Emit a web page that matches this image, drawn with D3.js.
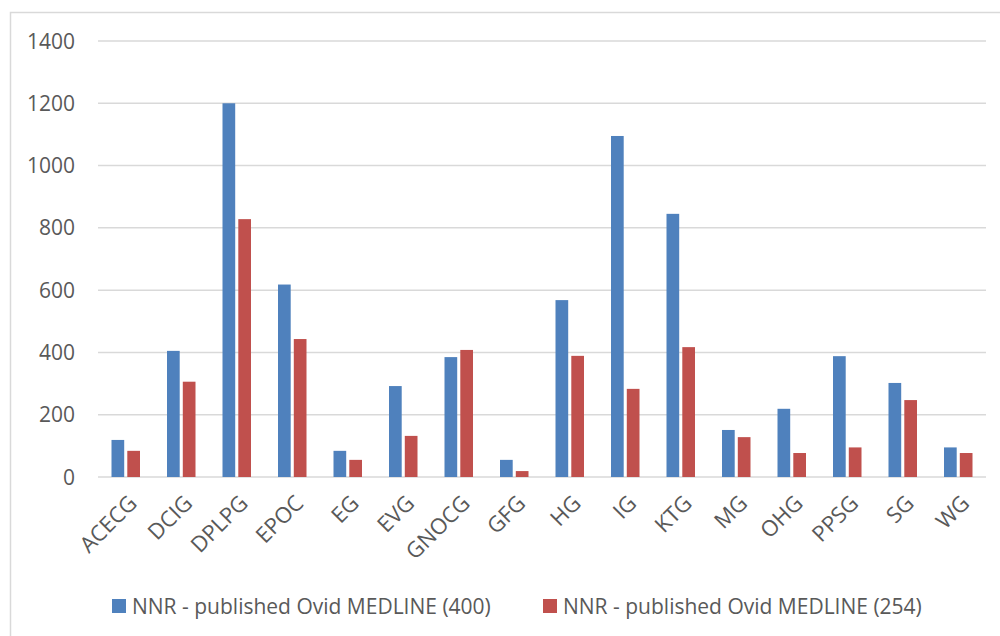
<!DOCTYPE html>
<html>
<head>
<meta charset="utf-8">
<script src="https://cdn.jsdelivr.net/npm/d3@7"></script>
<style>
	body { margin: 0; background: #fff; }
	svg { display: block; }
	text { font-family: "Open Sans", sans-serif; fill: #595959; }
</style>
</head>
<body>
<svg width="1000" height="636"></svg>
<script>
const categories = ["ACECG", "DCIG", "DPLPG", "EPOC", "EG", "EVG", "GNOCG", "GFG", "HG", "IG", "KTG", "MG", "OHG", "PPSG", "SG", "WG"];
const series400 = [119, 405, 1200, 618, 84, 292, 385, 55, 568, 1095, 845, 151, 219, 388, 302, 95];
const series254 = [84, 306, 828, 443, 55, 132, 408, 19, 389, 283, 417, 128, 77, 95, 247, 77];
const seriesNames = ["NNR - published Ovid MEDLINE (400)", "NNR - published Ovid MEDLINE (254)"];
const yTicks = [0, 200, 400, 600, 800, 1000, 1200, 1400];

const colours = ["#4f81bd", "#c0504d"];
const gridColour = "#d9d9d9";

let svg = d3.select("svg");

// chart area frame
svg.append("rect")
	.attr("x", 10.5).attr("y", 12.5)
	.attr("width", 1000).attr("height", 700)
	.attr("fill", "none")
	.attr("stroke", gridColour)
	.attr("stroke-width", 1.5);

let x0 = d3.scaleBand()
	.domain(categories)
	.range([98, 986]);

let x1 = d3.scaleBand()
	.domain([0, 1])
	.range([13.5, 42])
	.paddingInner(0.196);

let y = d3.scaleLinear()
	.domain([0, 1400])
	.range([477, 41]);

// grid
svg.append("g").attr("class", "grid")
	.selectAll("line")
	.data(yTicks)
	.enter().append("line")
		.attr("x1", 98).attr("x2", 986)
		.attr("y1", function(d){ return y(d); })
		.attr("y2", function(d){ return y(d); })
		.attr("stroke", gridColour)
		.attr("stroke-width", 1.5);

// y labels
svg.append("g").attr("class", "ylabels")
	.selectAll("text")
	.data(yTicks)
	.enter().append("text")
		.attr("x", 75)
		.attr("y", function(d){ return y(d); })
		.attr("dy", "0.36em")
		.attr("text-anchor", "end")
		.style("font-size", "21px")
		.text(function(d){ return d; });

// bars
let groups = svg.append("g").attr("class", "bars")
	.selectAll("g")
	.data(categories)
	.enter().append("g")
		.attr("transform", function(d){ return "translate(" + x0(d) + ",0)"; });

groups.selectAll("rect")
	.data(function(d, i){ return [series400[i], series254[i]]; })
	.enter().append("rect")
		.attr("x", function(d, j){ return x1(j); })
		.attr("width", x1.bandwidth())
		.attr("y", function(d){ return y(d); })
		.attr("height", function(d){ return y(0) - y(d); })
		.attr("fill", function(d, j){ return colours[j]; });

// x labels
svg.append("g").attr("class", "xlabels")
	.selectAll("text")
	.data(categories)
	.enter().append("text")
		.attr("transform", function(d){
			return "translate(" + (x0(d) + x0.bandwidth() / 2 + 7) + ",499) rotate(-45)";
		})
		.attr("text-anchor", "end")
		.attr("dy", "0.36em")
		.style("font-size", "22px")
		.text(function(d){ return d; });

// legend
let legendX = [112, 543];
let legend = svg.append("g").attr("class", "legend")
	.selectAll("g")
	.data(seriesNames)
	.enter().append("g")
		.attr("transform", function(d, i){ return "translate(" + legendX[i] + ",599)"; });

legend.append("rect")
	.attr("width", 14).attr("height", 14)
	.attr("fill", function(d, i){ return colours[i]; });

legend.append("text")
	.attr("x", 20).attr("y", 7)
	.attr("dy", "0.36em")
	.style("font-size", "21px")
	.text(function(d){ return d; });
</script>
</body>
</html>
